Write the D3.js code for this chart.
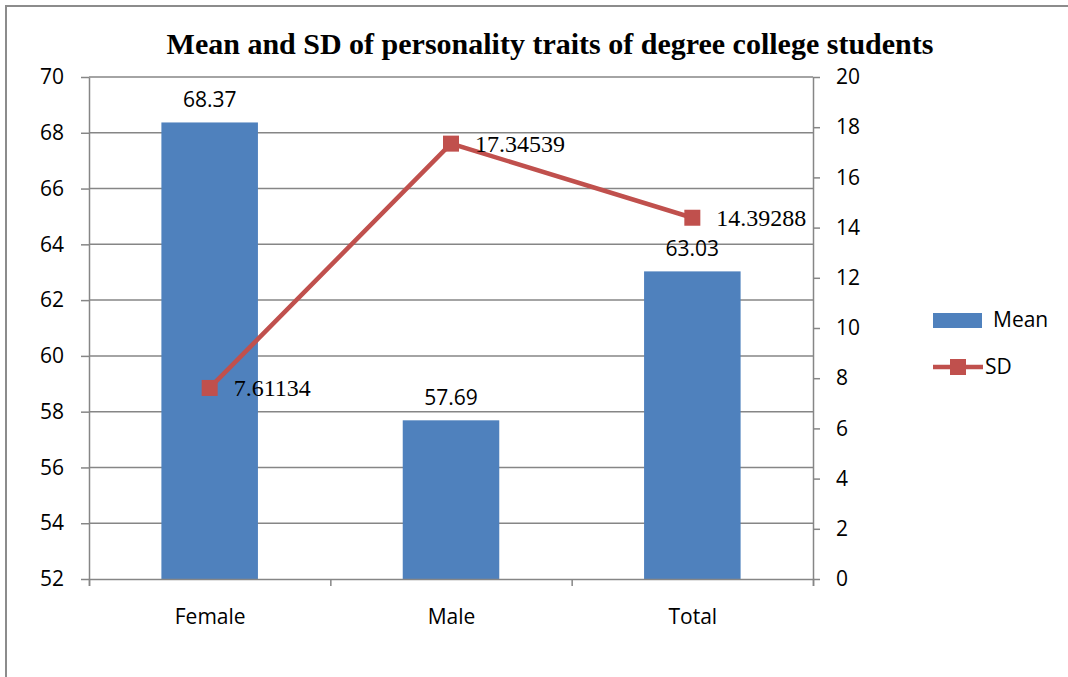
<!DOCTYPE html>
<html>
<head>
<meta charset="utf-8">
<script src="https://cdn.jsdelivr.net/npm/d3@7"></script>
<style>
	body { margin: 0; background: #fff; }
	svg { display: block; }
</style>
</head>
<body>
<script>
const categories = ['Female', 'Male', 'Total'];
const meanValues = [68.37, 57.69, 63.03];
const sdValues = [7.61134, 17.34539, 14.39288];
const leftTicks = [52, 54, 56, 58, 60, 62, 64, 66, 68, 70];
const rightTicks = [0, 2, 4, 6, 8, 10, 12, 14, 16, 18, 20];

const width = 1068;
const height = 677;
const margin = { top: 77, right: 255, bottom: 98, left: 89 };
const innerW = width - margin.left - margin.right;
const innerH = height - margin.top - margin.bottom;

const sans = "'Open Sans', 'Noto Sans', sans-serif";
const serif = "'Liberation Serif', 'DejaVu Serif', serif";
const gridColor = '#868686';
const barColor = '#4F81BD';
const lineColor = '#C0504D';

const svg = d3.select('body').append('svg')
	.attr('width', width)
	.attr('height', height);

// chart frame
svg.append('path')
	.attr('d', `M6,${height + 5}V6H${width + 5}`)
	.attr('fill', 'none')
	.attr('stroke', '#8c8c8c')
	.attr('stroke-width', 2);

svg.append('text')
	.attr('x', 550)
	.attr('y', 54)
	.attr('text-anchor', 'middle')
	.style('font-family', serif)
	.style('font-weight', 'bold')
	.style('font-size', '30px')
	.text('Mean and SD of personality traits of degree college students');

const graph = svg.append('g')
	.attr('transform', `translate(${margin.left},${margin.top})`);

const x = d3.scaleBand().domain(categories).range([0, innerW]).paddingInner(0.6).paddingOuter(0.3);
const xc = d3.scalePoint().domain(categories).range([0, innerW]).padding(0.5);
const y = d3.scaleLinear().domain([52, 70]).range([innerH, 0]);
const y2 = d3.scaleLinear().domain([0, 20]).range([innerH, 0]);

// gridlines
graph.append('g')
	.selectAll('line')
	.data(leftTicks.slice(1))
	.join('line')
	.attr('x1', 0)
	.attr('x2', innerW)
	.attr('y1', d => y(d))
	.attr('y2', d => y(d))
	.attr('stroke', gridColor)
	.attr('stroke-width', 1.5);

graph.append('g')
	.call(d3.axisLeft(y).tickValues(leftTicks).tickSize(8).tickPadding(17).tickSizeOuter(0))
	.call(g => g.select('.domain').attr('stroke', gridColor).attr('stroke-width', 1.5))
	.call(g => g.selectAll('.tick line').attr('stroke', gridColor).attr('stroke-width', 1.5))
	.call(g => g.selectAll('.tick text').style('font-family', sans).style('font-size', '21px').attr('fill', '#000'));

graph.append('g')
	.attr('transform', `translate(${innerW},0)`)
	.call(d3.axisRight(y2).tickValues(rightTicks).tickSize(7).tickPadding(16).tickSizeOuter(0))
	.call(g => g.select('.domain').attr('stroke', gridColor).attr('stroke-width', 1.5))
	.call(g => g.selectAll('.tick line').attr('stroke', gridColor).attr('stroke-width', 1.5))
	.call(g => g.selectAll('.tick text').style('font-family', sans).style('font-size', '21px').attr('fill', '#000'));

// bars
graph.append('g')
	.selectAll('rect')
	.data(categories)
	.join('rect')
	.attr('x', d => x(d))
	.attr('width', x.bandwidth())
	.attr('y', (d, i) => y(meanValues[i]))
	.attr('height', (d, i) => innerH - y(meanValues[i]))
	.attr('fill', barColor);

// bottom axis
graph.append('g')
	.attr('transform', `translate(0,${innerH})`)
	.call(d3.axisBottom(xc).tickSize(0).tickPadding(30))
	.call(g => g.select('.domain').remove())
	.call(g => g.selectAll('.tick text').style('font-family', sans).style('font-size', '21px').attr('fill', '#000'));

graph.append('g')
	.attr('transform', `translate(0,${innerH})`)
	.call(d3.axisBottom(d3.scaleLinear().domain([0, 3]).range([0, innerW])).ticks(3).tickSize(7).tickFormat(''))
	.call(g => g.select('.domain').attr('stroke', gridColor).attr('stroke-width', 1.5))
	.call(g => g.selectAll('.tick line').attr('stroke', gridColor).attr('stroke-width', 1.5));

// mean labels
graph.append('g')
	.selectAll('text')
	.data(categories)
	.join('text')
	.attr('x', d => xc(d))
	.attr('y', (d, i) => y(meanValues[i]) - 15)
	.attr('text-anchor', 'middle')
	.style('font-family', sans)
	.style('font-size', '21px')
	.text((d, i) => meanValues[i].toFixed(2));

// SD line
const line = d3.line()
	.x(d => xc(d.c))
	.y(d => y2(d.v));
const sdData = categories.map((c, i) => ({ c, v: sdValues[i] }));

graph.append('path')
	.datum(sdData)
	.attr('d', line)
	.attr('fill', 'none')
	.attr('stroke', lineColor)
	.attr('stroke-width', 4.5);

graph.append('g')
	.selectAll('rect')
	.data(sdData)
	.join('rect')
	.attr('x', d => xc(d.c) - 8)
	.attr('y', d => y2(d.v) - 8)
	.attr('width', 16)
	.attr('height', 16)
	.attr('fill', lineColor);

graph.append('g')
	.selectAll('text')
	.data(sdData)
	.join('text')
	.attr('x', d => xc(d.c) + 24)
	.attr('y', d => y2(d.v))
	.attr('dy', '0.35em')
	.style('font-family', serif)
	.style('font-size', '24px')
	.text(d => d.v.toFixed(5));

// legend
const legend = svg.append('g').attr('transform', 'translate(933,320)');
legend.append('rect')
	.attr('x', 0).attr('y', -7)
	.attr('width', 49).attr('height', 15)
	.attr('fill', barColor);
legend.append('text')
	.attr('x', 60).attr('y', 0).attr('dy', '0.35em')
	.style('font-family', sans).style('font-size', '21px')
	.text('Mean');
legend.append('line')
	.attr('x1', 0).attr('x2', 50).attr('y1', 47).attr('y2', 47)
	.attr('stroke', lineColor).attr('stroke-width', 4.5);
legend.append('rect')
	.attr('x', 17).attr('y', 39).attr('width', 16).attr('height', 16)
	.attr('fill', lineColor);
legend.append('text')
	.attr('x', 52).attr('y', 47).attr('dy', '0.35em')
	.style('font-family', sans).style('font-size', '21px')
	.text('SD');
</script>
</body>
</html>
